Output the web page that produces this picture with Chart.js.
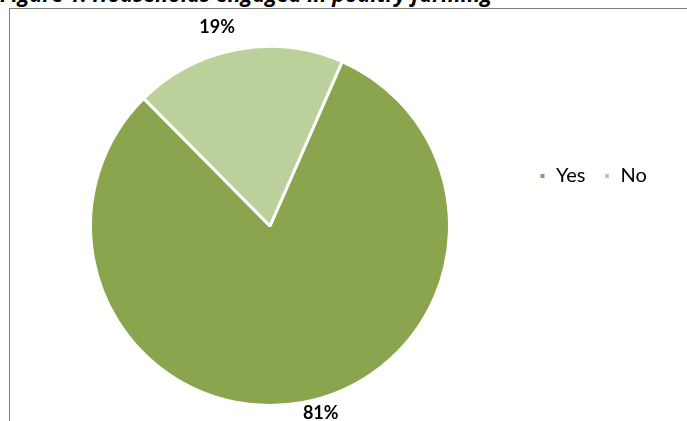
<!DOCTYPE html>
<html>
<head>
<meta charset="utf-8">
<script src="https://cdn.jsdelivr.net/npm/chart.js@4/dist/chart.umd.min.js"></script>
<style>
  html, body { margin: 0; padding: 0; background: #fff; }
  #wrap { position: relative; width: 687px; height: 421px; overflow: hidden; }
  #title {
    position: absolute; left: 0; top: -21px; margin: 0; line-height: 26px;
    font: italic bold 21.5px "Open Sans", Lato, sans-serif; color: #000; white-space: nowrap;
  }
  #frame {
    position: absolute; left: 9px; top: 8px; width: 700px; height: 430px;
    border-left: 1px solid #7f7f7f; border-top: 1px solid #7f7f7f;
  }
  #c { position: absolute; left: 0; top: 0; }
</style>
</head>
<body>
<div id="wrap">
  <div id="title">Figure 1: Households engaged in poultry farming</div>
  <div id="frame"></div>
  <canvas id="c" width="687" height="421"></canvas>
</div>
<script>
// Households engaged in poultry farming (% of households)
const categories = ['Yes', 'No'];
const shares = [81, 19];
const sliceColors = ['#8ba54f', '#bcd09b'];

// Percent labels just outside each slice
const outsideLabels = {
  id: 'outsideLabels',
  afterDatasetsDraw(chart, args, opts) {
    const ctx = chart.ctx;
    const meta = chart.getDatasetMeta(0);
    ctx.save();
    ctx.font = 'bold 18px Lato, "Open Sans", sans-serif';
    ctx.fillStyle = '#000';
    ctx.textAlign = 'center';
    ctx.textBaseline = 'middle';
    meta.data.forEach((arc, i) => {
      const p = arc.getProps(['x', 'y', 'startAngle', 'endAngle', 'outerRadius'], true);
      const mid = (p.startAngle + p.endAngle) / 2;
      const r = p.outerRadius + opts.gaps[i];
      const cx = Math.cos(mid), cy = Math.sin(mid);
      const x = p.x + r * cx + Math.sign(cx) * opts.shift;
      const y = p.y + r * cy;
      ctx.fillText(shares[i] + '%', x, y);
    });
    ctx.restore();
  }
};

// Place the legend row to the right of the pie
const legendPlacement = {
  id: 'legendPlacement',
  afterLayout(chart, args, opts) {
    const lg = chart.legend;
    const w = lg.width, h = lg.height;
    lg.left = opts.left; lg.right = opts.left + w;
    lg.top = opts.top; lg.bottom = opts.top + h;
  }
};

new Chart(document.getElementById('c'), {
  type: 'pie',
  data: {
    labels: categories,
    datasets: [{
      data: shares,
      backgroundColor: sliceColors,
      borderColor: '#ffffff',
      borderWidth: 3,
      hoverOffset: 0
    }]
  },
  options: {
    responsive: false,
    animation: false,
    rotation: 23.7,
    layout: { padding: { left: 89, right: 236, top: 0, bottom: 14 } },
    plugins: {
      legend: {
        position: 'top',
        align: 'start',
        maxHeight: 45,
        labels: {
          boxWidth: 7,
          boxHeight: 7,
          padding: 18,
          color: '#000',
          font: { family: 'Lato, "Open Sans", sans-serif', size: 20 }
        }
      },
      tooltip: { enabled: false },
      outsideLabels: { gaps: [11, 23], shift: 16 },
      legendPlacement: { left: 521, top: 148 }
    }
  },
  plugins: [outsideLabels, legendPlacement]
});
</script>
</body>
</html>
